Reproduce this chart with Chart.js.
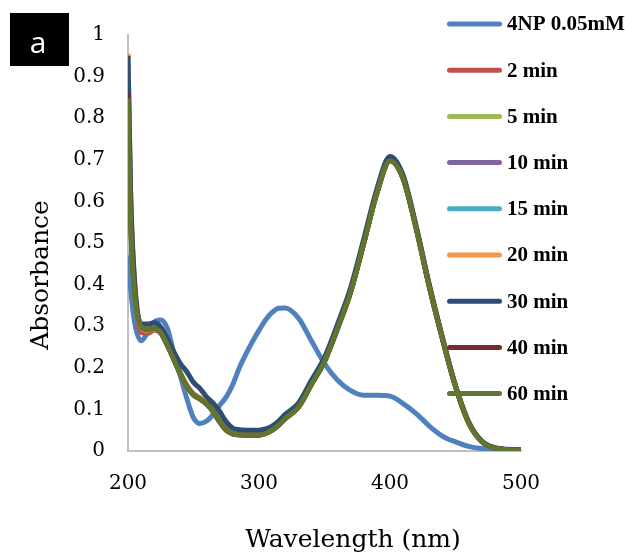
<!DOCTYPE html>
<html>
<head>
<meta charset="utf-8">
<script src="https://cdn.jsdelivr.net/npm/chart.js@4/dist/chart.umd.min.js"></script>
<style>
html,body{margin:0;padding:0;background:#fff;}
#wrap{width:625px;height:553px;position:relative;}
</style>
</head>
<body>
<div id="wrap"><canvas id="c" width="625" height="553"></canvas></div>
<script>
// ---------- data ----------
const wavelengths = [200,202,205,210,215,220,225,230,235,240,245,250,255,260,265,270,275,280,285,290,295,300,305,310,315,320,330,340,350,360,370,380,390,400,410,420,430,440,450,460,470,480,490,500];

const seriesNames = ['4NP 0.05mM','2 min','5 min','10 min','15 min','20 min','30 min','40 min','60 min'];
const seriesColors = ['#4F81BD','#C0504D','#9BBB59','#8064A2','#4BACC6','#F79646','#2C4D75','#772C2A','#5F7530'];

const abs4NP  = [0.47,0.39,0.31,0.265,0.285,0.31,0.315,0.295,0.235,0.18,0.125,0.08,0.066,0.072,0.088,0.11,0.13,0.16,0.2,0.233,0.263,0.29,0.315,0.333,0.343,0.344,0.32,0.265,0.21,0.17,0.145,0.134,0.134,0.132,0.114,0.09,0.06,0.036,0.022,0.011,0.006,0.003,0.001,0.001];
const abs2min = [0.90,0.58,0.39,0.285,0.283,0.29,0.283,0.254,0.22,0.185,0.155,0.135,0.125,0.113,0.095,0.07,0.05,0.041,0.039,0.038,0.038,0.038,0.042,0.05,0.062,0.078,0.105,0.16,0.215,0.295,0.383,0.5,0.62,0.698,0.655,0.535,0.395,0.27,0.155,0.068,0.023,0.007,0.003,0.002];
const abs5min = [0.88,0.56,0.38,0.298,0.29,0.294,0.284,0.255,0.22,0.185,0.155,0.135,0.125,0.113,0.095,0.07,0.05,0.041,0.039,0.038,0.038,0.038,0.042,0.05,0.062,0.078,0.105,0.16,0.215,0.295,0.383,0.5,0.62,0.699,0.655,0.535,0.395,0.27,0.155,0.068,0.023,0.007,0.003,0.002];
const abs10min = [0.92,0.59,0.39,0.3,0.293,0.296,0.286,0.256,0.221,0.186,0.156,0.136,0.126,0.114,0.096,0.071,0.051,0.042,0.04,0.039,0.039,0.039,0.043,0.051,0.063,0.079,0.106,0.161,0.216,0.296,0.384,0.501,0.621,0.7,0.656,0.536,0.396,0.271,0.156,0.069,0.023,0.007,0.003,0.002];
const abs15min = [0.93,0.60,0.40,0.3,0.294,0.297,0.287,0.257,0.222,0.187,0.157,0.137,0.127,0.115,0.097,0.072,0.052,0.043,0.041,0.04,0.04,0.04,0.044,0.052,0.064,0.08,0.107,0.162,0.217,0.297,0.385,0.502,0.622,0.701,0.657,0.537,0.397,0.271,0.156,0.069,0.023,0.007,0.003,0.002];
const abs20min = [0.955,0.62,0.40,0.301,0.295,0.298,0.288,0.258,0.223,0.188,0.158,0.138,0.128,0.116,0.098,0.073,0.053,0.044,0.042,0.041,0.041,0.041,0.045,0.053,0.065,0.081,0.108,0.163,0.218,0.298,0.386,0.503,0.623,0.702,0.658,0.538,0.398,0.272,0.157,0.069,0.023,0.007,0.003,0.002];
const abs30min = [0.95,0.62,0.41,0.305,0.305,0.308,0.298,0.27,0.238,0.21,0.19,0.165,0.15,0.13,0.115,0.095,0.07,0.055,0.051,0.05,0.05,0.05,0.053,0.06,0.072,0.088,0.115,0.17,0.225,0.305,0.393,0.51,0.63,0.708,0.663,0.54,0.4,0.273,0.157,0.07,0.024,0.008,0.004,0.003];
const abs40min = [0.86,0.56,0.385,0.3,0.292,0.295,0.285,0.255,0.22,0.185,0.155,0.135,0.125,0.113,0.095,0.07,0.05,0.041,0.039,0.038,0.038,0.038,0.042,0.05,0.062,0.078,0.105,0.16,0.215,0.295,0.383,0.5,0.62,0.698,0.655,0.535,0.395,0.27,0.155,0.068,0.023,0.007,0.003,0.002];
const abs60min = [0.848,0.55,0.38,0.3,0.292,0.295,0.285,0.255,0.22,0.185,0.155,0.135,0.125,0.113,0.095,0.07,0.05,0.041,0.039,0.038,0.038,0.038,0.042,0.05,0.062,0.078,0.105,0.16,0.215,0.295,0.383,0.5,0.62,0.698,0.655,0.535,0.395,0.27,0.155,0.068,0.023,0.007,0.003,0.002];

const seriesValues = [abs4NP,abs2min,abs5min,abs10min,abs15min,abs20min,abs30min,abs40min,abs60min];

const xTicks = [200,300,400,500];
const xTickLabels = ['200','300','400','500'];
const yTicks = [0,0.1,0.2,0.3,0.4,0.5,0.6,0.7,0.8,0.9,1];
const yTickLabels = ['0','0.1','0.2','0.3','0.4','0.5','0.6','0.7','0.8','0.9','1'];

const xTitle = 'Wavelength (nm)';
const yTitle = 'Absorbance';
const panelLabel = 'a';

// ---------- chart ----------
const n = seriesNames.length;
const datasets = seriesNames.map((name, i) => ({
  label: name,
  data: wavelengths.map((w, k) => ({x: w, y: seriesValues[i][k]})),
  borderColor: seriesColors[i],
  backgroundColor: seriesColors[i],
  borderWidth: 5,
  pointRadius: 0,
  cubicInterpolationMode: 'monotone',
  borderJoinStyle: 'round',
  fill: false,
  order: n - 1 - i
}));

const decorPlugin = {
  id: 'decor',
  afterDraw(chart) {
    const ctx = chart.ctx;
    ctx.save();
    // panel label
    ctx.fillStyle = '#000';
    ctx.fillRect(10, 13, 59, 53);
    ctx.fillStyle = '#fff';
    ctx.font = '30px "Open Sans"';
    ctx.textAlign = 'center';
    ctx.textBaseline = 'alphabetic';
    ctx.fillText(panelLabel, 38, 53);

    // axis titles
    ctx.fillStyle = '#000';
    ctx.font = '25px "DejaVu Serif"';
    ctx.textAlign = 'center';
    ctx.fillText(xTitle, 353, 547);
    ctx.save();
    ctx.translate(48, 275);
    ctx.rotate(-Math.PI / 2);
    ctx.fillText(yTitle, 0, 0);
    ctx.restore();

    // legend
    ctx.font = 'bold 21px "Liberation Serif"';
    ctx.textAlign = 'left';
    ctx.textBaseline = 'middle';
    chart.data.datasets.forEach((ds, i) => {
      const y = 24 + 46.2 * i;
      ctx.strokeStyle = ds.borderColor;
      ctx.lineWidth = 5;
      ctx.lineCap = 'round';
      ctx.beginPath();
      ctx.moveTo(449.5, y);
      ctx.lineTo(499.5, y);
      ctx.stroke();
      ctx.fillStyle = '#000';
      ctx.fillText(ds.label, 507, y + 1);
    });
    ctx.restore();
  }
};

new Chart(document.getElementById('c'), {
  type: 'line',
  data: { datasets },
  options: {
    responsive: false,
    devicePixelRatio: 1,
    animation: false,
    events: [],
    layout: { padding: { top: 31, right: 104, left: 0, bottom: 0 } },
    plugins: { legend: { display: false }, tooltip: { enabled: false }, title: { display: false } },
    scales: {
      x: {
        type: 'linear',
        min: 200, max: 500,
        afterBuildTicks: s => { s.ticks = xTicks.map(v => ({value: v})); },
        afterFit: s => { s.height = 102; },
        ticks: {
          callback: (v, i) => xTickLabels[i],
          padding: 21,
          color: '#000',
          maxRotation: 0,
          font: { family: 'DejaVu Serif', size: 20 }
        },
        grid: { display: false, drawTicks: false },
        border: { display: true, color: '#BFBFBF', width: 2 }
      },
      y: {
        min: 0, max: 1,
        afterBuildTicks: s => { s.ticks = yTicks.map(v => ({value: v})); },
        afterFit: s => { s.width = 128; },
        ticks: {
          callback: (v, i) => yTickLabels[i],
          padding: 23,
          color: '#000',
          font: { family: 'DejaVu Serif', size: 20 }
        },
        grid: { display: false, drawTicks: false },
        border: { display: true, color: '#BFBFBF', width: 2 }
      }
    }
  },
  plugins: [decorPlugin]
});
</script>
</body>
</html>
